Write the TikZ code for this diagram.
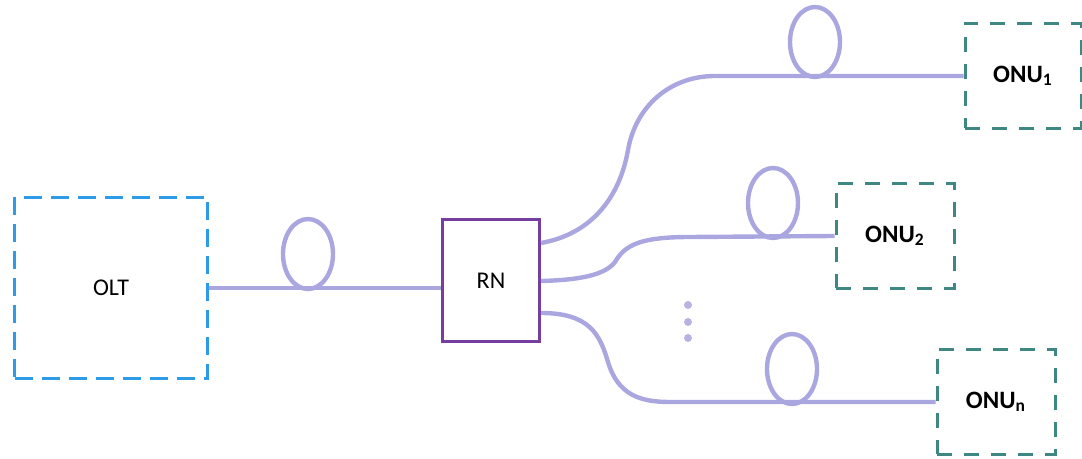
\documentclass[tikz,border=0pt]{standalone}
\usepackage{fontspec}
\setmainfont{Carlito}
\usetikzlibrary{positioning}
\definecolor{fibercol}{RGB}{170,166,224}
\definecolor{oltcol}{RGB}{46,155,230}
\definecolor{rncol}{RGB}{118,62,160}
\definecolor{onucol}{RGB}{62,135,130}

\begin{document}
\begin{tikzpicture}[x=0.5pt,y=-0.5pt,
		fiber/.style={line width=2.2pt, draw=fibercol},
		oltbox/.style={draw=oltcol, line width=1.75pt, dash pattern=on 9pt off 4.5pt, minimum width=96.5pt, minimum height=90.5pt, font=\fontsize{12}{14}\selectfont},
		rnbox/.style={draw=rncol, line width=1.5pt, minimum width=48.5pt, minimum height=61pt, font=\fontsize{12}{14}\selectfont},
		onubox/.style={draw=onucol, line width=1.5pt, dash pattern=on 7.5pt off 6pt, minimum width=59pt, minimum height=52.5pt, font=\fontsize{12.5}{14}\selectfont\bfseries}]
		\useasboundingbox (0,0) rectangle (1082,459);
		
		\node[oltbox] (olt) at (111,288) {OLT};
		\node[rnbox] (rn) at (491,281) {RN};
		\node[onubox, minimum width=58pt] (onu1) at (1023,76) {ONU\textsubscript{1}};
		\node[onubox] (onu2) at (895,236) {ONU\textsubscript{2}};
		\node[onubox] (onun) at (996,402) {ONU\textsubscript{n}};
		
		\draw[fiber] (olt.east) -- (rn.west |- olt.east);
		\draw[fiber] ([yshift=19pt]rn.east) to[out=10,in=-100] (628,150) to[out=80,in=180] (715,76) -- (onu1.west);
		\draw[fiber] (rn.east) .. controls (580,280) and (605,275) .. (615,262) .. controls (625,245) and (640,237) .. (690,237) -- (onu2.west);
		\draw[fiber] ([yshift=-16pt]rn.east) .. controls (590,313) and (600,335) .. (608,362) .. controls (618,395) and (640,402) .. (670,402) -- (onun.west);
		
		\draw[fiber] (308,254) ellipse (12.5pt and 17.5pt);
		\draw[fiber] (815,42) ellipse (12.5pt and 17.5pt);
		\draw[fiber] (773,203) ellipse (12.5pt and 17.5pt);
		\draw[fiber] (792,369) ellipse (12.5pt and 17.5pt);
		
		\fill[fibercol!85] (688,305) circle (2pt);
		\fill[fibercol!85] (688,322) circle (2pt);
		\fill[fibercol!85] (688,338) circle (2pt);
	\end{tikzpicture}
\end{document}
